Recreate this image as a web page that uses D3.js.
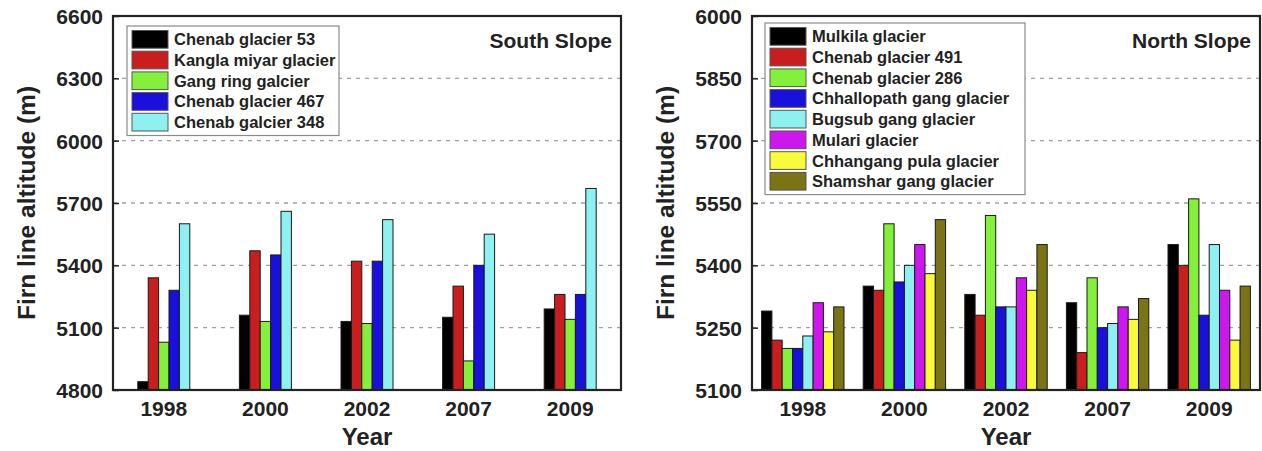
<!DOCTYPE html>
<html>
<head>
<meta charset="utf-8">
<script src="https://cdn.jsdelivr.net/npm/d3@7"></script>
<style>
  html, body { margin: 0; padding: 0; background: #fff; }
  svg { display: block; }
  text { font-family: "Liberation Sans", Arial, sans-serif; font-weight: bold; fill: #222; }
</style>
</head>
<body>
<svg id="chart" width="1262" height="451"></svg>
<script>
// ---------- data ----------
const years = ["1998", "2000", "2002", "2007", "2009"];

const southNames = ["Chenab glacier 53", "Kangla miyar glacier", "Gang ring galcier", "Chenab glacier 467", "Chenab galcier 348"];
const southColors = ["#000000", "#c81e1e", "#84f03c", "#1a10dc", "#8ef0f0"];
const chenab53   = [4840, 5160, 5130, 5150, 5190];
const kanglaMiyar = [5340, 5470, 5420, 5300, 5260];
const gangRing   = [5030, 5130, 5120, 4940, 5140];
const chenab467  = [5280, 5450, 5420, 5400, 5260];
const chenab348  = [5600, 5660, 5620, 5550, 5770];
const southTicks = [4800, 5100, 5400, 5700, 6000, 6300, 6600];

const northNames = ["Mulkila glacier", "Chenab glacier 491", "Chenab glacier 286", "Chhallopath gang glacier", "Bugsub gang glacier", "Mulari glacier", "Chhangang pula glacier", "Shamshar gang glacier"];
const northColors = ["#000000", "#c81e1e", "#84f03c", "#1a10dc", "#8ef0f0", "#cc18ec", "#fafa3c", "#7a7416"];
const mulkila    = [5290, 5350, 5330, 5310, 5450];
const chenab491  = [5220, 5340, 5280, 5190, 5400];
const chenab286  = [5200, 5500, 5520, 5370, 5560];
const chhallopath = [5200, 5360, 5300, 5250, 5280];
const bugsub     = [5230, 5400, 5300, 5260, 5450];
const mulari     = [5310, 5450, 5370, 5300, 5340];
const chhangang  = [5240, 5380, 5340, 5270, 5220];
const shamshar   = [5300, 5510, 5450, 5320, 5350];
const northTicks = [5100, 5250, 5400, 5550, 5700, 5850, 6000];

// ---------- drawing ----------
const svg = d3.select("#chart");

function drawChart(cfg) {
  const g = svg.append("g");
  const x = d3.scaleBand().domain(years).range([cfg.left, cfg.right]).padding(0);
  const y = d3.scaleLinear().domain([cfg.ticks[0], cfg.ticks[cfg.ticks.length - 1]]).range([cfg.bottom, cfg.top]);
  const barW = cfg.barW;
  const inner = d3.scaleBand().domain(cfg.names).range([0, barW * cfg.names.length]);

  // gridlines (dashed)
  g.append("g").selectAll("line")
    .data(cfg.ticks.slice(1, -1))
    .join("line")
    .attr("x1", cfg.left).attr("x2", cfg.right)
    .attr("y1", d => y(d)).attr("y2", d => y(d))
    .attr("stroke", "#a0a0a0").attr("stroke-width", 1.4)
    .attr("stroke-dasharray", "4,5");

  // bars
  const groups = g.append("g").selectAll("g")
    .data(years)
    .join("g")
    .attr("transform", d => `translate(${x(d) + x.bandwidth() / 2 - inner.range()[1] / 2},0)`);

  groups.selectAll("rect")
    .data((yr, i) => cfg.names.map((n, k) => ({ name: n, value: cfg.series[k][i], color: cfg.colors[k] })))
    .join("rect")
    .attr("x", d => inner(d.name))
    .attr("width", inner.bandwidth())
    .attr("y", d => y(d.value))
    .attr("height", d => y(cfg.ticks[0]) - y(d.value))
    .attr("fill", d => d.color)
    .attr("stroke", "#1a1a1a").attr("stroke-width", 1);

  // legend
  const lg = g.append("g");
  const rowH = 20.7;
  lg.append("rect")
    .attr("x", cfg.legX).attr("y", cfg.legY)
    .attr("width", cfg.legW).attr("height", rowH * cfg.names.length + 6)
    .attr("fill", "#fff").attr("stroke", "#8a8a8a").attr("stroke-width", 1.2);
  const rows = lg.selectAll("g")
    .data(cfg.names)
    .join("g")
    .attr("transform", (d, i) => `translate(${cfg.legX + 5},${cfg.legY + 3 + i * rowH})`);
  rows.append("rect")
    .attr("x", 0).attr("y", 1.5).attr("width", 36).attr("height", rowH - 3)
    .attr("fill", (d, i) => cfg.colors[i])
    .attr("stroke", "#555").attr("stroke-width", 1);
  rows.append("text")
    .attr("x", 42).attr("y", rowH / 2 + 6)
    .attr("font-size", "16.5px")
    .text(d => d);

  // frame
  g.append("rect")
    .attr("x", cfg.left).attr("y", cfg.top)
    .attr("width", cfg.right - cfg.left).attr("height", cfg.bottom - cfg.top)
    .attr("fill", "none").attr("stroke", "#222").attr("stroke-width", 2.2);

  // y axis
  const yAxis = d3.axisLeft(y).tickValues(cfg.ticks).tickSize(-6).tickPadding(10).tickFormat(d3.format("d"));
  const ya = g.append("g").attr("transform", `translate(${cfg.left},0)`).call(yAxis);
  ya.select(".domain").remove();
  ya.selectAll("line").attr("stroke", "#222").attr("stroke-width", 1.5);
  ya.selectAll("text").attr("font-size", "21px").attr("font-family", null).attr("fill", "#222").attr("dy", "0.36em");

  // x axis
  const xAxis = d3.axisBottom(x).tickSize(0).tickPadding(11);
  const xa = g.append("g").attr("transform", `translate(0,${cfg.bottom})`).call(xAxis);
  xa.select(".domain").remove();
  xa.selectAll("text").attr("font-size", "21px").attr("font-family", null).attr("fill", "#222");

  // titles
  g.append("text")
    .attr("x", (cfg.left + cfg.right) / 2).attr("y", 445)
    .attr("text-anchor", "middle").attr("font-size", "24px")
    .text("Year");
  g.append("text")
    .attr("transform", `translate(${cfg.left - 78},${(cfg.top + cfg.bottom) / 2}) rotate(-90)`)
    .attr("text-anchor", "middle").attr("font-size", "24.5px")
    .text("Firn line altitude (m)");
  g.append("text")
    .attr("x", cfg.right - 9).attr("y", 48)
    .attr("text-anchor", "end").attr("font-size", "21px")
    .text(cfg.title);
}

drawChart({
  left: 113, right: 621, top: 16, bottom: 390,
  ticks: southTicks, names: southNames, colors: southColors,
  series: [chenab53, kanglaMiyar, gangRing, chenab467, chenab348],
  barW: 10.4, legX: 127, legY: 26, legW: 212, title: "South Slope"
});

drawChart({
  left: 752, right: 1260, top: 16, bottom: 390,
  ticks: northTicks, names: northNames, colors: northColors,
  series: [mulkila, chenab491, chenab286, chhallopath, bugsub, mulari, chhangang, shamshar],
  barW: 10.3, legX: 765, legY: 23, legW: 260, title: "North Slope"
});
</script>
</body>
</html>
